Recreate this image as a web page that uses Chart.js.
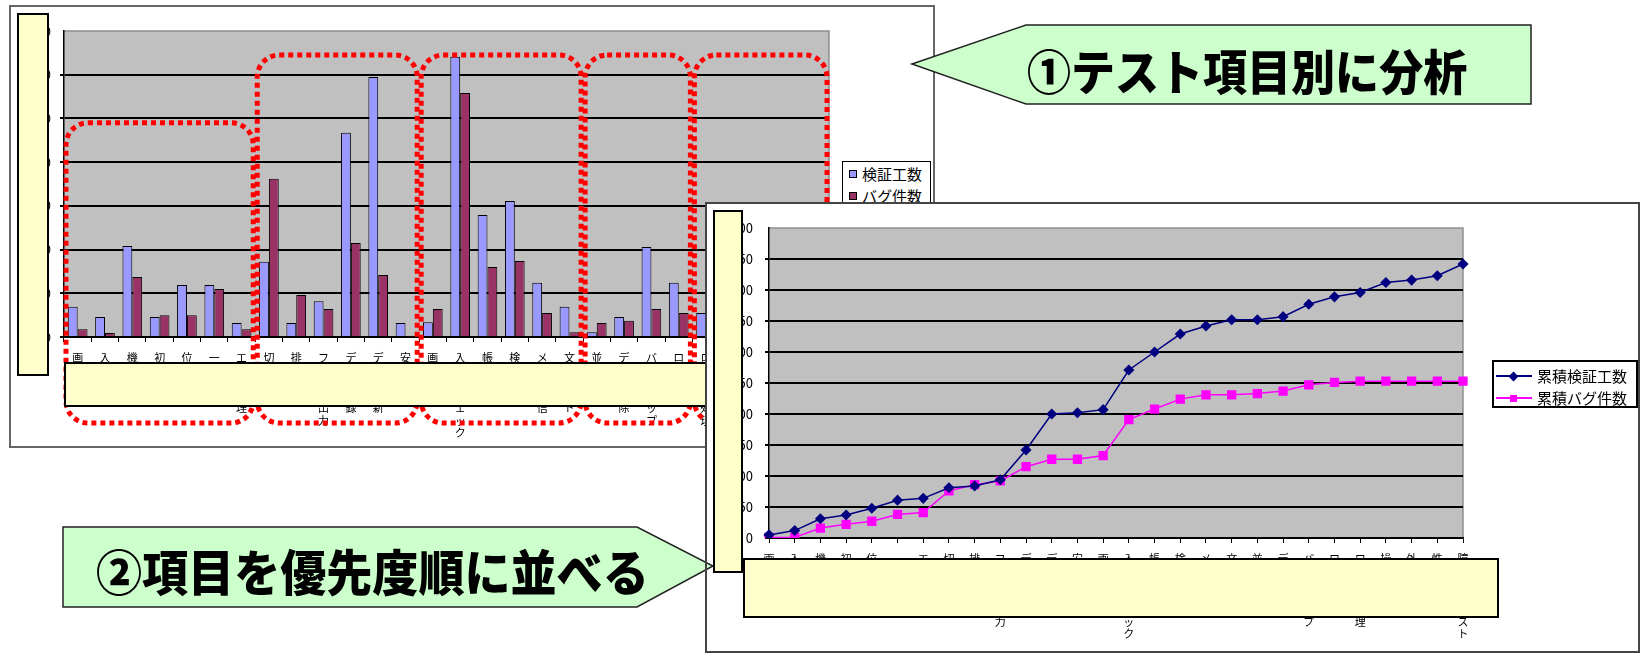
<!DOCTYPE html>
<html lang="ja">
<head>
<meta charset="utf-8">
<title>テスト項目別分析</title>
<script src="https://cdn.jsdelivr.net/npm/chart.js@4.4.1/dist/chart.umd.min.js"></script>
<style>
    body { margin: 0; width: 1643px; height: 656px; position: relative; background: #fff; overflow: hidden;
           font-family: "Noto Sans CJK JP", "Noto Sans", sans-serif; }
    .abs { position: absolute; box-sizing: border-box; }
    .panel { background: #fff; }
    .yellow { background: #FFFFCC; border: 2px solid #000; }
    .legend { background: #fff; border: 1.5px solid #000; font-size: 15px; color: #000; }
    .legend .row { position: relative; height: 22px; line-height: 22px; white-space: nowrap; }
    .swatch { position: absolute; top: 7px; width: 8px; height: 8px; border: 1px solid #000; box-sizing: border-box; }
    .icon-line { position: absolute; top: 10px; left: 2px; width: 36px; height: 2px; }
    .icon-mark { position: absolute; width: 7px; height: 7px; left: 16px; top: 7.5px; }
    .callout-text { position: absolute; white-space: nowrap; font-weight: 900; color: #000; transform-origin: 0 0; }
</style>
</head>
<body>

<!-- ① テスト項目別の棒グラフ -->
<div class="abs panel" style="left:9px;top:5px;width:926px;height:443px;border:2px solid #666;z-index:1"></div>
<canvas id="barChart" class="abs" width="926" height="443" style="left:9px;top:5px;width:926px;height:443px;z-index:2"></canvas>
<div class="abs yellow" style="left:17px;top:13px;width:32px;height:363px;z-index:3"></div>
<div class="abs yellow" style="left:64px;top:362px;width:700px;height:45px;z-index:3"></div>
<div class="abs legend" style="left:842px;top:161px;width:89px;height:60px;z-index:3">
    <div class="row" style="margin-top:1px"><span class="swatch" style="left:6px;background:#9999FF"></span><span style="position:absolute;left:19px">検証工数</span></div>
    <div class="row"><span class="swatch" style="left:6px;background:#993366"></span><span style="position:absolute;left:19px">バグ件数</span></div>
</div>

<!-- ② 優先度順の累積グラフ -->
<div class="abs panel" style="left:705px;top:202px;width:935px;height:451px;z-index:4"></div>
<canvas id="lineChart" class="abs" width="935" height="451" style="left:705px;top:202px;width:935px;height:451px;z-index:5"></canvas>

<!-- 吹き出し -->
<svg class="abs" width="1643" height="656" style="left:0;top:0;z-index:6">
    <polygon points="912,64 1026,25 1531,25 1531,104 1026,104" fill="#CCFFCC" stroke="#222" stroke-width="1.5"/>
    <polygon points="63,527 637,527 713,566 637,607 63,607" fill="#CCFFCC" stroke="#222" stroke-width="1.5"/>
</svg>
<div class="callout-text" style="left:1027px;top:45px;font-size:48px;line-height:48px;transform:scaleX(0.917);z-index:6">①テスト項目別に分析</div>
<div class="callout-text" style="left:96px;top:545px;font-size:49px;line-height:49px;transform:scaleX(0.94);z-index:6">②項目を優先度順に並べる</div>

<div class="abs" style="left:705px;top:202px;width:935px;height:451px;border:2px solid #444;z-index:7"></div>
<div class="abs yellow" style="left:713px;top:210px;width:30px;height:363px;z-index:8"></div>
<div class="abs yellow" style="left:743px;top:558px;width:756px;height:60px;z-index:8"></div>
<div class="abs legend" style="left:1492px;top:360px;width:146px;height:48px;border-width:2px;z-index:8">
    <div class="row" style="margin-top:3px">
        <span class="icon-line" style="background:#000080"></span>
        <span class="icon-mark" style="background:#000080;transform:rotate(45deg)"></span>
        <span style="position:absolute;left:43px">累積検証工数</span>
    </div>
    <div class="row">
        <span class="icon-line" style="background:#FF00FF"></span>
        <span class="icon-mark" style="background:#FF00FF"></span>
        <span style="position:absolute;left:43px">累積バグ件数</span>
    </div>
</div>

<script>
// テスト項目（グラフ①と②で同じ並び）
const testItems = [
    '画面表示', '入力項目', '機能切替', '初期設定', '位置情報', '一覧表示', 'エラー処理',
    '切替処理', '排他制御', 'ファイル出力', 'データ登録', 'データ更新', '安全性',
    '画面遷移', '入力値チェック', '帳票印刷', '検索機能', 'メール送信', '文字コード',
    '並行処理', 'データ削除', 'バックアップ', 'ログ出力',
    'ログイン処理', '操作履歴', '外部連携', '性能測定', '障害回復テスト'
];

// 項目のグループ（赤い点線枠）ごとの項目数
const groupSizes = [7, 6, 6, 4, 5];

// 項目別 検証工数・バグ件数
const hours = [6.9, 4.6, 20.8, 4.6, 11.9, 11.9, 3.2, 17.2, 3.2, 8.2, 46.7, 59.5, 3.2, 3.4,
               64.1, 27.9, 31.1, 12.4, 6.9, 1.1, 4.6, 20.6, 12.4, 5.5, 16, 4, 6.5, 19.5];
const bugs = [1.8, 0.9, 13.7, 5.0, 5.0, 11.0, 1.8, 36.2, 9.6, 6.4, 21.5, 14.2, 0.3, 6.4,
              55.8, 16.0, 17.4, 5.5, 1.1, 3.2, 3.7, 6.4, 5.5, 2.7, 0, 0, 0, 0];

// 累積値（グラフ②）
const cumHours = [5, 12, 31, 37, 48, 61, 64, 81, 84, 94, 142, 200, 202, 207,
                  271, 300, 329, 342, 352, 352, 357, 377, 389, 396, 412, 416, 423, 442];
const cumBugs = [1, 1, 16, 22, 27, 38, 41, 76, 86, 92, 115, 127, 127, 133,
                 191, 208, 224, 231, 231, 233, 237, 247, 251, 253, 253, 253, 253, 253];

// 目盛
const barYMax = 70, barYStep = 10;
const lineYMax = 500, lineYStep = 50;

Chart.defaults.font.family = '"Noto Sans CJK JP", "Noto Sans", sans-serif';
Chart.defaults.color = '#000';

// 項目名は縦書き風に1文字ずつ改行
const verticalLabels = testItems.map(s => Array.from(s));

// 角丸の四角形パス
function roundedRect(ctx, x, y, w, h, r) {
    ctx.beginPath();
    ctx.moveTo(x + r, y);
    ctx.arcTo(x + w, y, x + w, y + h, r);
    ctx.arcTo(x + w, y + h, x, y + h, r);
    ctx.arcTo(x, y + h, x, y, r);
    ctx.arcTo(x, y, x + w, y, r);
    ctx.closePath();
}

// プロットエリアの灰色背景
const plotBackground = {
    id: 'plotBackground',
    beforeDraw(chart) {
        const { ctx, chartArea: a } = chart;
        ctx.save();
        ctx.fillStyle = '#C0C0C0';
        ctx.fillRect(a.left, a.top, a.right - a.left, a.bottom - a.top);
        ctx.strokeStyle = '#8f8f8f';
        ctx.lineWidth = 1.5;
        ctx.beginPath();
        ctx.moveTo(a.left, a.top);
        ctx.lineTo(a.right, a.top);
        ctx.lineTo(a.right, a.bottom);
        ctx.stroke();
        ctx.restore();
    }
};

// グループごとの赤い点線枠
const groupFrames = {
    id: 'groupFrames',
    afterDatasetsDraw(chart) {
        const { ctx, chartArea: a, scales: { x, y } } = chart;
        const step = x.getPixelForValue(1) - x.getPixelForValue(0);
        let start = 0;
        ctx.save();
        ctx.strokeStyle = '#FF0000';
        ctx.lineWidth = 5;
        ctx.setLineDash([5, 4]);
        groupSizes.forEach((n, i) => {
            const left = x.getPixelForValue(start) - step / 2 + 2;
            const right = x.getPixelForValue(start + n - 1) + step / 2 - 2;
            const top = y.getPixelForValue(i === 0 ? 49 : 64.5);
            const bottom = a.bottom + 86;
            roundedRect(ctx, left, top, right - left, bottom - top, 22);
            ctx.stroke();
            start += n;
        });
        ctx.restore();
    }
};

function gridColor(max) {
    return function(ctx) {
        return ctx.tick && ctx.tick.value === max ? 'rgba(0,0,0,0)' : '#000';
    };
}

// ① 棒グラフ
new Chart(document.getElementById('barChart'), {
    type: 'bar',
    data: {
        labels: verticalLabels,
        datasets: [{
            label: '検証工数',
            data: hours,
            backgroundColor: '#9999FF',
            borderColor: '#000',
            borderWidth: 1,
            categoryPercentage: 0.72,
            barPercentage: 1
        }, {
            label: 'バグ件数',
            data: bugs,
            backgroundColor: '#993366',
            borderColor: '#000',
            borderWidth: 1,
            categoryPercentage: 0.72,
            barPercentage: 1
        }]
    },
    options: {
        responsive: false,
        animation: false,
        layout: { padding: { top: 26, right: 106, left: 0, bottom: 0 } },
        plugins: { legend: { display: false }, tooltip: { enabled: false } },
        scales: {
            x: {
                grid: { drawOnChartArea: false, tickLength: 5, color: '#000' },
                border: { color: '#000', width: 1.5 },
                ticks: { autoSkip: false, maxRotation: 0, minRotation: 0, padding: 9,
                         font: { size: 11, lineHeight: 1.15 } },
                afterFit(axis) { axis.height = 111; }
            },
            y: {
                min: 0,
                max: barYMax,
                grid: { color: gridColor(barYMax), lineWidth: 2, tickLength: 4 },
                border: { color: '#000', width: 1.5 },
                ticks: { stepSize: barYStep, padding: 9, font: { size: 12 } },
                afterFit(axis) { axis.width = 55; }
            }
        }
    },
    plugins: [plotBackground, groupFrames]
});

// ② 累積折れ線グラフ
new Chart(document.getElementById('lineChart'), {
    type: 'line',
    data: {
        labels: verticalLabels,
        datasets: [{
            label: '累積検証工数',
            data: cumHours,
            borderColor: '#000080',
            backgroundColor: '#000080',
            borderWidth: 1.5,
            pointStyle: 'rectRot',
            pointRadius: 4.5,
            tension: 0
        }, {
            label: '累積バグ件数',
            data: cumBugs,
            borderColor: '#FF00FF',
            backgroundColor: '#FF00FF',
            borderWidth: 1.5,
            pointStyle: 'rect',
            pointRadius: 5.5,
            tension: 0
        }]
    },
    options: {
        responsive: false,
        animation: false,
        layout: { padding: { top: 26, right: 177, left: 0, bottom: 0 } },
        plugins: { legend: { display: false }, tooltip: { enabled: false } },
        scales: {
            x: {
                offset: false,
                grid: { drawOnChartArea: false, tickLength: 5, color: '#000', offset: false },
                border: { color: '#000', width: 1.5 },
                ticks: { autoSkip: false, maxRotation: 0, minRotation: 0, padding: 9,
                         font: { size: 11, lineHeight: 1.15 } },
                afterFit(axis) { axis.height = 115; }
            },
            y: {
                min: 0,
                max: lineYMax,
                grid: { color: gridColor(lineYMax), lineWidth: 2, tickLength: 4 },
                border: { color: '#000', width: 1.5 },
                ticks: { stepSize: lineYStep, padding: 12, font: { size: 13 } },
                afterFit(axis) { axis.width = 64; }
            }
        }
    },
    plugins: [plotBackground]
});
</script>
</body>
</html>
